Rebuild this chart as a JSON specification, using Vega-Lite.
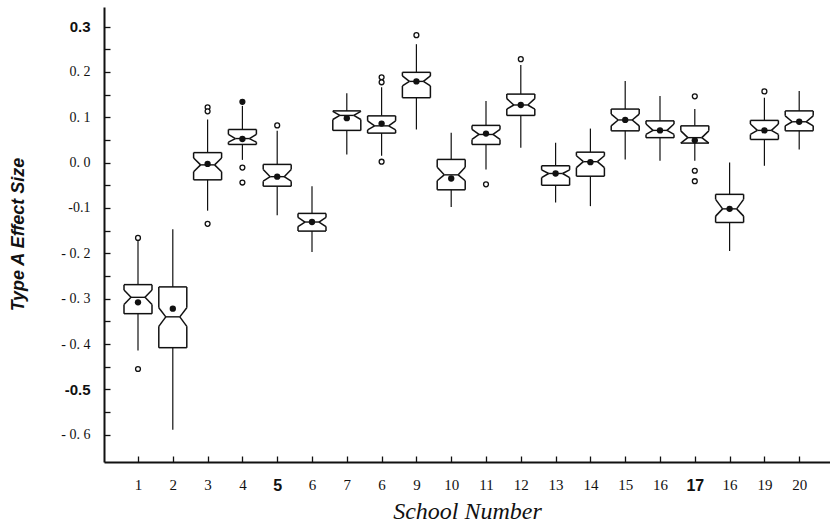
{
  "$schema": "https://vega.github.io/schema/vega-lite/v6.json",
  "width": 726,
  "height": 455,
  "autosize": {"type": "none"},
  "padding": {"left": 104, "top": 7, "right": 0, "bottom": 67},
  "background": "white",
  "config": {"view": {"stroke": null}, "axis": {"grid": false}},
  "datasets": {
    "boxes": [
      {"s": 1, "lo": -0.414, "q1": -0.333, "nlo": -0.313, "med": -0.297, "nhi": -0.281, "q3": -0.269, "hi": -0.172, "mean": -0.308},
      {"s": 2, "lo": -0.589, "q1": -0.408, "nlo": -0.361, "med": -0.340, "nhi": -0.320, "q3": -0.274, "hi": -0.147, "mean": -0.322},
      {"s": 3, "lo": -0.106, "q1": -0.038, "nlo": -0.020, "med": -0.005, "nhi": 0.010, "q3": 0.022, "hi": 0.095, "mean": -0.003},
      {"s": 4, "lo": 0.006, "q1": 0.040, "nlo": 0.045, "med": 0.053, "nhi": 0.062, "q3": 0.073, "hi": 0.125, "mean": 0.052},
      {"s": 5, "lo": -0.116, "q1": -0.052, "nlo": -0.041, "med": -0.031, "nhi": -0.015, "q3": -0.004, "hi": 0.070, "mean": -0.031},
      {"s": 6, "lo": -0.197, "q1": -0.151, "nlo": -0.141, "med": -0.131, "nhi": -0.121, "q3": -0.112, "hi": -0.052, "mean": -0.131},
      {"s": 7, "lo": 0.018, "q1": 0.071, "nlo": 0.095, "med": 0.104, "nhi": 0.113, "q3": 0.114, "hi": 0.153, "mean": 0.098},
      {"s": 8, "lo": 0.015, "q1": 0.065, "nlo": 0.072, "med": 0.081, "nhi": 0.092, "q3": 0.103, "hi": 0.166, "mean": 0.086},
      {"s": 9, "lo": 0.073, "q1": 0.143, "nlo": 0.169, "med": 0.179, "nhi": 0.191, "q3": 0.199, "hi": 0.261, "mean": 0.179},
      {"s": 10, "lo": -0.098, "q1": -0.060, "nlo": -0.040, "med": -0.027, "nhi": -0.010, "q3": 0.007, "hi": 0.066, "mean": -0.035},
      {"s": 11, "lo": -0.015, "q1": 0.040, "nlo": 0.051, "med": 0.062, "nhi": 0.073, "q3": 0.082, "hi": 0.136, "mean": 0.064},
      {"s": 12, "lo": 0.033, "q1": 0.104, "nlo": 0.118, "med": 0.127, "nhi": 0.141, "q3": 0.151, "hi": 0.215, "mean": 0.127},
      {"s": 13, "lo": -0.088, "q1": -0.050, "nlo": -0.033, "med": -0.024, "nhi": -0.016, "q3": -0.007, "hi": 0.044, "mean": -0.024},
      {"s": 14, "lo": -0.096, "q1": -0.030, "nlo": -0.011, "med": 0.002, "nhi": 0.015, "q3": 0.023, "hi": 0.075, "mean": 0.001},
      {"s": 15, "lo": 0.007, "q1": 0.070, "nlo": 0.081, "med": 0.094, "nhi": 0.107, "q3": 0.118, "hi": 0.180, "mean": 0.094},
      {"s": 16, "lo": 0.004, "q1": 0.055, "nlo": 0.062, "med": 0.071, "nhi": 0.085, "q3": 0.092, "hi": 0.147, "mean": 0.071},
      {"s": 17, "lo": 0.004, "q1": 0.043, "nlo": 0.043, "med": 0.055, "nhi": 0.070, "q3": 0.081, "hi": 0.118, "mean": 0.049},
      {"s": 18, "lo": -0.195, "q1": -0.132, "nlo": -0.118, "med": -0.102, "nhi": -0.081, "q3": -0.070, "hi": 0.000, "mean": -0.102},
      {"s": 19, "lo": -0.007, "q1": 0.051, "nlo": 0.062, "med": 0.071, "nhi": 0.085, "q3": 0.093, "hi": 0.143, "mean": 0.071},
      {"s": 20, "lo": 0.029, "q1": 0.070, "nlo": 0.081, "med": 0.090, "nhi": 0.103, "q3": 0.114, "hi": 0.158, "mean": 0.090}
    ],
    "outliers": [
      {"s": 1, "v": -0.166, "kind": "single"},
      {"s": 1, "v": -0.455, "kind": "single"},
      {"s": 3, "v": 0.122, "kind": "single"},
      {"s": 3, "v": 0.113, "kind": "single"},
      {"s": 3, "v": -0.135, "kind": "single"},
      {"s": 4, "v": 0.134, "kind": "multiple"},
      {"s": 4, "v": -0.011, "kind": "single"},
      {"s": 4, "v": -0.044, "kind": "single"},
      {"s": 5, "v": 0.082, "kind": "single"},
      {"s": 8, "v": 0.188, "kind": "single"},
      {"s": 8, "v": 0.177, "kind": "single"},
      {"s": 8, "v": 0.002, "kind": "single"},
      {"s": 9, "v": 0.281, "kind": "single"},
      {"s": 11, "v": -0.048, "kind": "single"},
      {"s": 12, "v": 0.228, "kind": "single"},
      {"s": 17, "v": 0.146, "kind": "single"},
      {"s": 17, "v": -0.018, "kind": "single"},
      {"s": 17, "v": -0.041, "kind": "single"},
      {"s": 19, "v": 0.157, "kind": "single"}
    ]
  },
  "encoding": {
    "x": {
      "field": "s",
      "type": "quantitative",
      "scale": {"domain": [0.023, 20.885], "nice": false, "zero": false},
      "axis": {
        "values": [1, 2, 3, 4, 5, 6, 7, 8, 9, 10, 11, 12, 13, 14, 15, 16, 17, 18, 19, 20],
        "labelExpr": "['','1','2','3','4','5','6','7','6','9','10','11','12','13','14','15','16','17','16','19','20'][datum.value]",
        "labelFont": {"condition": {"test": "datum.value == 5 || datum.value == 17", "value": "Liberation Sans"}, "value": "Liberation Serif"},
        "labelFontWeight": {"condition": {"test": "datum.value == 5 || datum.value == 17", "value": "bold"}, "value": "normal"},
        "labelFontSize": {"condition": {"test": "datum.value == 5 || datum.value == 17", "value": 16}, "value": 15},
        "labelColor": "#111",
        "labelPadding": 15,
        "labelBaseline": "top",
        "ticks": false,
        "domainColor": "#111",
        "domainWidth": 2,
        "title": "School Number",
        "titleFont": "Liberation Serif",
        "titleFontStyle": "italic",
        "titleFontWeight": "normal",
        "titleFontSize": 24,
        "titleColor": "#111",
        "titleBaseline": "middle",
        "titleY": 49
      }
    }
  },
  "resolve": {"axis": {"x": "independent", "y": "independent"}},
  "layer": [
    {
      "layer": [
        {
          "data": {"name": "boxes"},
          "mark": {"type": "rule", "color": "#111", "strokeWidth": 1.2},
          "encoding": {
            "y": {
              "field": "q3",
              "type": "quantitative",
              "scale": {"domain": [-0.66, 0.343], "nice": false, "zero": false},
              "axis": {
                "values": [-0.6, -0.5, -0.4, -0.3, -0.2, -0.1, 0, 0.1, 0.2, 0.3],
                "labelExpr": "['- 0. 6','-0.5','- 0. 4','- 0. 3','- 0. 2','-0.1','0. 0','0. 1','0. 2','0.3'][round((datum.value + 0.6) * 10)]",
                "labelFont": {"condition": {"test": "abs(datum.value - 0.3) < 0.001 || abs(datum.value + 0.5) < 0.001", "value": "Liberation Sans"}, "value": "Liberation Serif"},
                "labelFontWeight": {"condition": {"test": "abs(datum.value - 0.3) < 0.001 || abs(datum.value + 0.5) < 0.001", "value": "bold"}, "value": "normal"},
                "labelFontSize": {"condition": {"test": "abs(datum.value - 0.3) < 0.001 || abs(datum.value + 0.5) < 0.001", "value": 15}, "value": 14},
                "labelColor": "#111",
                "labelPadding": 14,
                "ticks": false,
                "domainColor": "#111",
                "domainWidth": 2,
                "title": "Type A Effect Size",
                "titleFont": "Liberation Sans",
                "titleFontStyle": "italic",
                "titleFontWeight": "bold",
                "titleFontSize": 18,
                "titleColor": "#111",
                "titleAngle": -90,
                "titleAlign": "center",
                "titleBaseline": "middle",
                "titleX": -86,
                "titleY": 227
              }
            },
            "y2": {"field": "hi"}
          }
        },
        {
          "data": {"name": "boxes"},
          "mark": {"type": "rule", "color": "#111", "strokeWidth": 1.2},
          "encoding": {"y": {"field": "lo", "type": "quantitative"}, "y2": {"field": "q1"}}
        },
        {
          "data": {"name": "boxes"},
          "mark": {"type": "rule", "color": "#111", "strokeWidth": 1.5, "xOffset": -14, "x2Offset": 14},
          "encoding": {"x2": {"field": "s"}, "y": {"field": "q3", "type": "quantitative"}}
        },
        {
          "data": {"name": "boxes"},
          "mark": {"type": "rule", "color": "#111", "strokeWidth": 1.5, "xOffset": -14, "x2Offset": 14},
          "encoding": {"x2": {"field": "s"}, "y": {"field": "q1", "type": "quantitative"}}
        },
        {
          "data": {"name": "boxes"},
          "mark": {"type": "rule", "color": "#111", "strokeWidth": 1.5, "xOffset": -14},
          "encoding": {"y": {"field": "q3", "type": "quantitative"}, "y2": {"field": "nhi"}}
        },
        {
          "data": {"name": "boxes"},
          "mark": {"type": "rule", "color": "#111", "strokeWidth": 1.5, "xOffset": 14},
          "encoding": {"y": {"field": "q3", "type": "quantitative"}, "y2": {"field": "nhi"}}
        },
        {
          "data": {"name": "boxes"},
          "mark": {"type": "rule", "color": "#111", "strokeWidth": 1.5, "xOffset": -14},
          "encoding": {"y": {"field": "nlo", "type": "quantitative"}, "y2": {"field": "q1"}}
        },
        {
          "data": {"name": "boxes"},
          "mark": {"type": "rule", "color": "#111", "strokeWidth": 1.5, "xOffset": 14},
          "encoding": {"y": {"field": "nlo", "type": "quantitative"}, "y2": {"field": "q1"}}
        },
        {
          "data": {"name": "boxes"},
          "mark": {"type": "rule", "color": "#111", "strokeWidth": 1.5, "xOffset": -14, "x2Offset": -7},
          "encoding": {"x2": {"field": "s"}, "y": {"field": "nhi", "type": "quantitative"}, "y2": {"field": "med"}}
        },
        {
          "data": {"name": "boxes"},
          "mark": {"type": "rule", "color": "#111", "strokeWidth": 1.5, "xOffset": 14, "x2Offset": 7},
          "encoding": {"x2": {"field": "s"}, "y": {"field": "nhi", "type": "quantitative"}, "y2": {"field": "med"}}
        },
        {
          "data": {"name": "boxes"},
          "mark": {"type": "rule", "color": "#111", "strokeWidth": 1.5, "xOffset": -14, "x2Offset": -7},
          "encoding": {"x2": {"field": "s"}, "y": {"field": "nlo", "type": "quantitative"}, "y2": {"field": "med"}}
        },
        {
          "data": {"name": "boxes"},
          "mark": {"type": "rule", "color": "#111", "strokeWidth": 1.5, "xOffset": 14, "x2Offset": 7},
          "encoding": {"x2": {"field": "s"}, "y": {"field": "nlo", "type": "quantitative"}, "y2": {"field": "med"}}
        },
        {
          "data": {"name": "boxes"},
          "mark": {"type": "rule", "color": "#111", "strokeWidth": 1.4, "xOffset": -7, "x2Offset": 7},
          "encoding": {"x2": {"field": "s"}, "y": {"field": "med", "type": "quantitative"}}
        },
        {
          "data": {"name": "boxes"},
          "mark": {"type": "point", "shape": "circle", "filled": true, "color": "#111", "opacity": 1, "size": 40},
          "encoding": {"y": {"field": "mean", "type": "quantitative"}}
        },
        {
          "data": {"name": "outliers"},
          "mark": {"type": "point", "shape": "circle", "stroke": "#111", "strokeWidth": 1.3, "opacity": 1, "size": 24},
          "encoding": {
            "y": {"field": "v", "type": "quantitative"},
            "fill": {"field": "kind", "type": "nominal", "scale": {"domain": ["single", "multiple"], "range": ["white", "#111"]}, "legend": null}
          }
        }
      ]
    },
    {
      "data": {"name": "boxes"},
      "mark": {"type": "point", "opacity": 0},
      "encoding": {
        "x": {
          "field": "s",
          "type": "quantitative",
          "axis": {
            "values": [1, 2, 3, 4, 5, 6, 7, 8, 9, 10, 11, 12, 13, 14, 15, 16, 17, 18, 19, 20],
            "labels": false,
            "domain": false,
            "grid": false,
            "title": null,
            "ticks": true,
            "tickSize": 6,
            "tickColor": "#111",
            "tickWidth": 1.3,
            "offset": -455
          }
        },
        "y": {
          "field": "q3",
          "type": "quantitative",
          "axis": {
            "values": [-0.6, -0.55, -0.5, -0.45, -0.4, -0.35, -0.3, -0.25, -0.2, -0.15, -0.1, -0.05, 0, 0.05, 0.1, 0.15, 0.2, 0.25, 0.3],
            "labels": false,
            "domain": false,
            "grid": false,
            "title": null,
            "ticks": true,
            "tickSize": 6,
            "tickColor": "#111",
            "tickWidth": 1.3,
            "offset": -726
          }
        }
      }
    }
  ]
}
